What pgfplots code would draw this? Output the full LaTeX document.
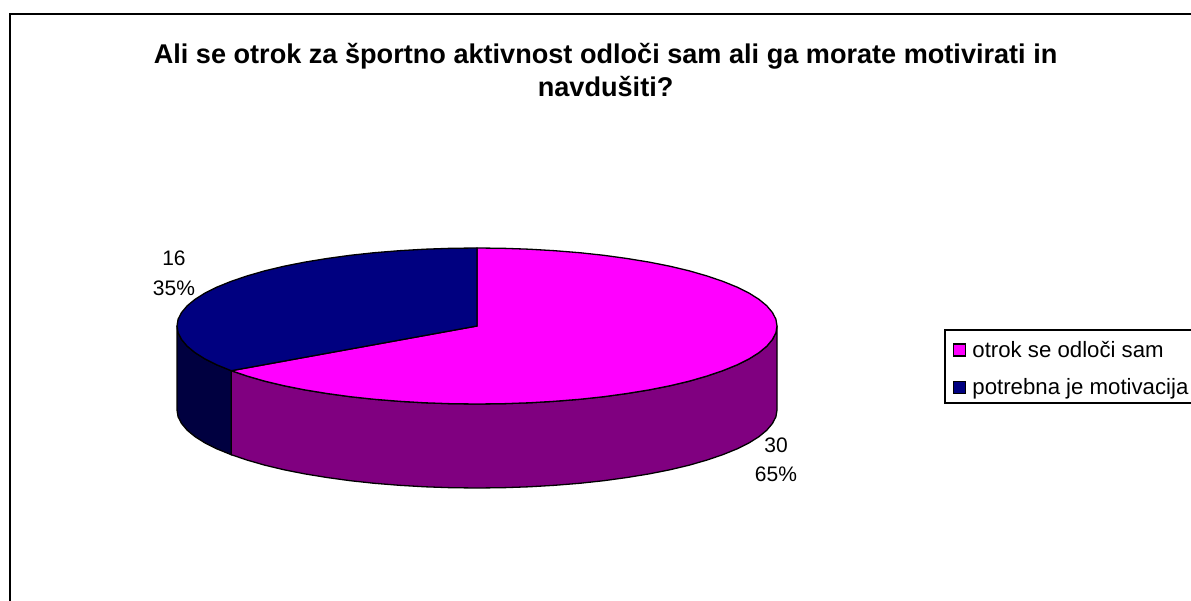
\documentclass[border=0pt]{standalone}
\usepackage{pgfplots}
\pgfplotsset{compat=1.18}
\usepackage{fontspec}
\setmainfont{Liberation Sans}
\definecolor{piepink}{RGB}{255,0,255}
\definecolor{pieblue}{RGB}{0,0,128}
\definecolor{sidepink}{RGB}{128,0,128}
\definecolor{sideblue}{RGB}{0,0,64}
\begin{document}
\begin{tikzpicture}
\useasboundingbox (0,0) rectangle (1191pt,601pt);
\begin{axis}[
    at={(0,0)},
    anchor=south west,
    scale only axis,
    width=1191pt,
    height=601pt,
    xmin=0, xmax=1191,
    ymin=0, ymax=601,
    y dir=reverse,
    hide axis,
    title={Ali se otrok za športno aktivnost odloči sam ali ga morate motivirati in\\navdušiti?},
    title style={at={(0.5085,0.8735)},anchor=center,align=center,
        font=\fontsize{27.1}{33}\selectfont\bfseries},
    legend style={at={(0.7935,0.451)},anchor=north west,draw=none,fill=none,
        font=\fontsize{22.2}{24}\selectfont,row sep=16pt,inner xsep=8pt,inner ysep=9pt},
    legend cell align=left,
    legend image code/.code={\draw[#1,line width=1.2pt] (0cm,-6pt) rectangle (12pt,6pt);},
]
% frame runs off the right and bottom edge
\addplot[black,line width=2.2pt,forget plot] coordinates {(10,601) (10,14) (1191,14)};
% legend box, right side cut off
\addplot[black,line width=1.5pt,forget plot] coordinates {(1191,330) (945,330) (945,403) (1191,403)};

% side of the big slice
\addplot[fill=sidepink,draw=black,line width=1.3pt,forget plot] coordinates {
(777,326) (775.9,332.8) (772.4,339.5) (766.8,346.2) (758.9,352.7) (748.9,359)
(736.8,365) (722.7,370.7) (706.8,376.1) (689.1,381.2) (669.8,385.8) (649.1,389.9)
(627,393.5) (603.8,396.7) (579.6,399.3) (554.6,401.3) (529.1,402.8) (503.1,403.7)
(477,404) (450.9,403.7) (424.9,402.8) (399.4,401.3) (374.4,399.3) (350.2,396.7)
(327,393.5) (304.9,389.9) (284.2,385.8) (264.9,381.2) (247.2,376.1) (231.3,370.7)
(231.3,454.7) (247.2,460.1) (264.9,465.2) (284.2,469.8) (304.9,473.9) (327,477.5)
(350.2,480.7) (374.4,483.3) (399.4,485.3) (424.9,486.8) (450.9,487.7) (477,488)
(503.1,487.7) (529.1,486.8) (554.6,485.3) (579.6,483.3) (603.8,480.7) (627,477.5)
(649.1,473.9) (669.8,469.8) (689.1,465.2) (706.8,460.1) (722.7,454.7) (736.8,449)
(748.9,443) (758.9,436.7) (766.8,430.2) (772.4,423.5) (775.9,416.8) (777,410)
} -- cycle;
% side of the small slice
\addplot[fill=sideblue,draw=black,line width=1.3pt,forget plot] coordinates {
(231.3,370.7) (217.2,365) (205.1,359) (195.1,352.7) (187.2,346.2) (181.6,339.5)
(178.1,332.8) (177,326) (177,410) (178.1,416.8) (181.6,423.5) (187.2,430.2)
(195.1,436.7) (205.1,443) (217.2,449) (231.3,454.7)
} -- cycle;

% top: 30 (65%)
\addplot[fill=piepink,draw=black,line width=1.3pt] coordinates {
(477,326) (477,248) (503.1,248.3) (529.1,249.2) (554.6,250.7) (579.6,252.7)
(603.8,255.3) (627,258.5) (649.1,262.1) (669.8,266.2) (689.1,270.8) (706.8,275.9)
(722.7,281.3) (736.8,287) (748.9,293) (758.9,299.3) (766.8,305.8) (772.4,312.5)
(775.9,319.2) (777,326) (775.9,332.8) (772.4,339.5) (766.8,346.2) (758.9,352.7)
(748.9,359) (736.8,365) (722.7,370.7) (706.8,376.1) (689.1,381.2) (669.8,385.8)
(649.1,389.9) (627,393.5) (603.8,396.7) (579.6,399.3) (554.6,401.3) (529.1,402.8)
(503.1,403.7) (477,404) (450.9,403.7) (424.9,402.8) (399.4,401.3) (374.4,399.3)
(350.2,396.7) (327,393.5) (304.9,389.9) (284.2,385.8) (264.9,381.2) (247.2,376.1)
(231.3,370.7)
} -- cycle;
\addlegendentry{\hspace*{4pt}otrok se odloči sam}
% top: 16 (35%)
\addplot[fill=pieblue,draw=black,line width=1.3pt] coordinates {
(477,326) (231.3,370.7) (217.2,365) (205.1,359) (195.1,352.7) (187.2,346.2)
(181.6,339.5) (178.1,332.8) (177,326) (178.1,319.2) (181.6,312.5) (187.2,305.8)
(195.1,299.3) (205.1,293) (217.2,287) (231.3,281.3) (247.2,275.9) (264.9,270.8)
(284.2,266.2) (304.9,262.1) (327,258.5) (350.2,255.3) (374.4,252.7) (399.4,250.7)
(424.9,249.2) (450.9,248.3) (477,248)
} -- cycle;
\addlegendentry{\hspace*{4pt}potrebna je motivacija}

\node[align=center,font=\fontsize{21}{29.5}\selectfont] at (axis cs:174,273.5) {16\\35\%};
\node[align=center,font=\fontsize{21}{29.5}\selectfont] at (axis cs:776,460) {30\\65\%};
\end{axis}
\end{tikzpicture}
\end{document}
